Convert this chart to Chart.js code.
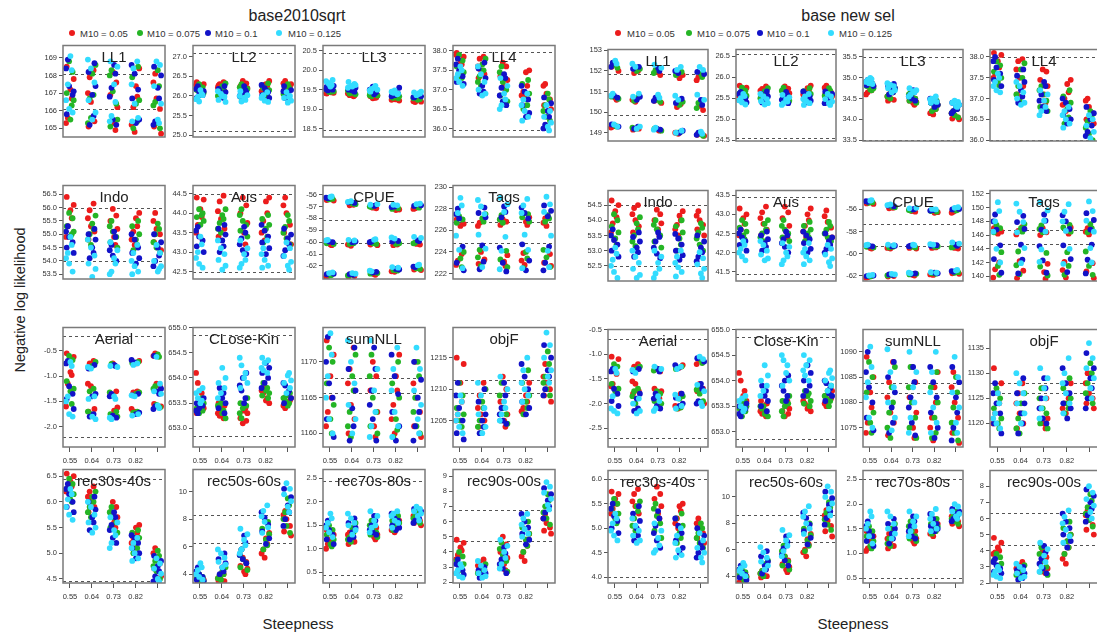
<!DOCTYPE html>
<html lang="en">
<head>
<meta charset="UTF-8">
<title>Negative log likelihood vs steepness</title>
<script src="https://cdn.jsdelivr.net/npm/chart.js"></script>
<style>
  html, body { margin:0; padding:0; background:#fff; }
  body { width:1097px; height:635px; position:relative; overflow:hidden;
         font-family:"Liberation Sans", Arial, sans-serif; color:#222; }
  canvas { position:absolute; }
  .txt { position:absolute; white-space:nowrap; }
  .main { font-size:16px; transform:translate(-50%,-50%); }
  .leg  { font-size:9.5px; color:#333; transform:translateY(-50%); }
  .dot  { position:absolute; width:6px; height:6px; border-radius:50%; transform:translate(-50%,-50%); }
  .xlab { font-size:15px; transform:translate(-50%,-50%); }
  .ylab { font-size:14.5px; transform:translate(-50%,-50%) rotate(-90deg); }
</style>
</head>
<body>

<div class="txt main" style="left:297px;top:16px">base2010sqrt</div>
<div class="txt main" style="left:848px;top:16px">base new sel</div>
<div class="txt ylab" style="left:20px;top:300px">Negative log likelihood</div>
<div class="txt xlab" style="left:298px;top:623px">Steepness</div>
<div class="txt xlab" style="left:853px;top:623px">Steepness</div>
<div id="legends"></div>

<script>
/* ---------- common labels ---------- */
const M10 = ['0.05', '0.075', '0.1', '0.125'];
const COLORS = ['#ec1c1c', '#25b525', '#1212c8', '#33dcff'];
const STEEPNESS = ['0.55', '0.64', '0.73', '0.82', '0.91'];
const SHOWN_X_LABELS = 4;           // R dropped the last label

const leftTitles  = ['LL1','LL2','LL3','LL4','Indo','Aus','CPUE','Tags','Aerial','CLose-Kin','sumNLL','objF','rec30s-40s','rec50s-60s','rec70s-80s','rec90s-00s'];
const rightTitles = ['LL1','LL2','LL3','LL4','Indo','Aus','CPUE','Tags','Aerial','Close-Kin','sumNLL','objF','rec30s-40s','rec50s-60s','rec70s-80s','rec90s-00s'];

const leftRanges  = [[164.51,169.7],[24.96,27.28],[18.28,20.64],[35.78,38.14],[53.32,56.83],[42.31,44.71],[-63.1,-55.23],[221.5,230.14],[-2.4,-0.04],[652.63,655.0],[1158.1,1174.8],[1200.8,1219.8],[4.42,6.63],[3.36,11.6],[0.27,2.69],[1.95,9.43]];
const rightRanges = [[148.6,153.04],[24.48,26.66],[33.48,35.68],[35.98,38.18],[52.0,54.98],[41.26,43.62],[-62.5,-54.28],[139.3,152.5],[-2.88,-0.5],[652.7,655.0],[1071.2,1094.4],[1115.3,1138.7],[3.88,6.18],[3.48,12.0],[0.4,2.68],[2.0,8.97]];

const leftTicks  = [[165,166,167,168,169],[25,25.5,26,26.5,27],[18.5,19,19.5,20,20.5],[36,36.5,37,37.5,38],[53.5,54,54.5,55,55.5,56,56.5],[42.5,43,43.5,44,44.5],[-62,-61,-60,-59,-58,-57,-56],[222,224,226,228,230],[-2,-1.5,-1,-0.5],[653,653.5,654,654.5,655],[1160,1165,1170],[1205,1210,1215],[4.5,5,5.5,6,6.5],[4,6,8,10],[0.5,1,1.5,2,2.5],[2,3,4,5,6,7,8,9]];
const rightTicks = [[149,150,151,152,153],[24.5,25,25.5,26,26.5],[33.5,34,34.5,35,35.5],[36,36.5,37,37.5,38],[52.5,53,53.5,54,54.5],[41.5,42,42.5,43,43.5],[-62,-60,-58,-56],[140,142,144,146,148,150,152],[-2.5,-2,-1.5,-1,-0.5],[653,653.5,654,654.5,655],[1075,1080,1085,1090],[1120,1125,1130,1135],[4,4.5,5,5.5,6],[4,6,8,10],[0.5,1,1.5,2,2.5],[2,3,4,5,6,7,8]];

const leftRefs  = [[168.1,166.1],[27.1,25.1],[20.45,18.45],[37.97,35.97],[56.0,54.0],[44.5,42.5],[-58.1,-60.1],[226.8,224.8],[-0.2,-2.2],[654.85,652.85],[1167.7,1165.7],[1211.4,1209.4],[6.45,4.45],[8.3,6.3],[2.45,0.45],[6.75,4.75]];
const rightRefs = [[151.85,149.85],[26.55,24.55],[35.5,33.5],[38.0,36.0],[54.5,52.5],[43.45,41.45],[-57.35,-59.35],[146.7,144.7],[-0.7,-2.7],[654.85,652.85],[1083.8,1081.8],[1128.0,1126.0],[6.0,4.0],[8.6,6.6],[2.5,0.5],[6.35,4.35]];

/* ---------- values: [colour][steepness][run] ---------- */
/* base2010sqrt */
const L_LL1 = [
  [[168.5,167.8,167.2,166.7,165.6,165.3],[168.3,167.9,167.0,166.5,165.4,165.1],[168.2,167.6,166.9,166.2,165.3,164.9],[168.4,167.4,166.8,166.2,165.2,164.8],[168.1,167.6,166.7,166.1,165.1,164.7]],
  [[168.8,168.2,167.0,166.6,165.5,166.3],[168.6,168.1,166.9,166.7,165.3,165.6],[168.3,168.0,167.1,166.4,165.1,165.5],[168.5,167.9,166.6,166.4,165.4,165.0],[168.3,167.4,166.5,166.3,165.3,165.0]],
  [[168.9,168.4,167.4,166.9,165.8,167.1],[168.7,168.2,167.4,166.9,165.7,165.2],[168.6,168.1,167.3,166.8,165.5,165.2],[168.6,168.1,167.2,166.7,165.5,165.3],[168.5,168.0,167.3,166.7,165.4,165.2]],
  [[169.1,168.3,167.5,166.6,166.1,165.9],[168.9,168.4,167.6,166.6,165.9,165.5],[168.8,168.5,167.5,166.5,165.7,165.4],[168.8,168.4,167.5,166.4,165.6,165.4],[168.8,168.6,167.4,166.4,165.5,165.3]]];
const L_LL2 = [
  [[26.35,26.3,26.25,26.2,26.15,26.28],[26.35,26.3,26.22,26.18,26.12,26.27],[26.38,26.32,26.25,26.2,26.15,26.3],[26.38,26.3,26.25,26.18,26.12,26.28],[26.38,26.32,26.24,26.2,26.14,26.3]],
  [[26.3,26.22,26.15,26.08,26.02,26.18],[26.32,26.25,26.15,26.1,26.0,26.2],[26.3,26.22,26.12,26.05,25.98,26.18],[26.32,26.25,26.15,26.08,26.0,26.2],[26.3,26.22,26.12,26.05,25.98,26.17]],
  [[26.25,26.18,26.1,26.02,25.95,26.12],[26.25,26.18,26.1,26.0,25.95,26.13],[26.25,26.15,26.08,26.0,25.92,26.1],[26.28,26.2,26.1,26.02,25.95,26.14],[26.25,26.15,26.08,26.0,25.95,26.12]],
  [[26.15,26.05,25.98,25.92,25.86,26.02],[26.12,26.05,25.98,25.9,25.85,26.0],[26.12,26.02,25.95,25.9,25.86,26.0],[26.1,26.02,25.95,25.88,25.85,25.98],[26.1,26.0,25.95,25.88,25.83,25.98]]];
const L_LL3 = [
  [[19.40,19.42,19.45,19.43,19.48,19.41],[19.33,19.36,19.40,19.38,19.35,19.42],[19.28,19.30,19.33,19.35,19.31,19.29],[19.22,19.25,19.28,19.30,19.24,19.27],[19.18,19.20,19.22,19.25,19.21,19.19]],
  [[19.44,19.47,19.50,19.46,19.52,19.45],[19.38,19.42,19.45,19.40,19.48,19.44],[19.33,19.36,19.40,19.38,19.42,19.35],[19.28,19.30,19.33,19.35,19.31,19.29],[19.24,19.27,19.30,19.28,19.32,19.26]],
  [[19.48,19.52,19.55,19.50,19.58,19.60],[19.45,19.50,19.55,19.48,19.60,19.52],[19.38,19.42,19.46,19.50,19.58,19.44],[19.33,19.36,19.40,19.38,19.55,19.42],[19.30,19.33,19.36,19.38,19.34,19.31]],
  [[19.58,19.62,19.68,19.72,19.65,19.75],[19.55,19.60,19.65,19.70,19.62,19.58],[19.45,19.50,19.55,19.60,19.52,19.48],[19.38,19.42,19.45,19.48,19.40,19.44],[19.36,19.40,19.43,19.45,19.38,19.41]]];
const L_LL4 = [
  [[37.95,37.85,37.75,37.65,37.62,37.9],[37.85,37.8,37.6,37.5,37.4,37.3],[37.7,37.6,37.35,37.25,37.1,37.0],[37.5,37.45,37.1,36.95,36.85,36.8],[37.15,37.1,36.9,36.75,36.6,36.5]],
  [[37.9,37.75,37.6,37.45,37.35,37.3],[37.8,37.65,37.5,37.35,37.2,37.1],[37.6,37.45,37.2,37.0,36.85,36.7],[37.25,37.15,36.9,36.75,36.6,36.5],[36.9,36.75,36.6,36.45,36.3,36.2]],
  [[37.8,37.65,37.5,37.35,37.2,37.15],[37.7,37.55,37.3,37.1,36.95,36.9],[37.4,37.3,37.05,36.85,36.7,36.6],[37.1,36.95,36.75,36.6,36.4,36.3],[36.8,36.65,36.45,36.3,36.1,36.0]],
  [[37.6,37.5,37.4,37.3,37.2,37.1],[37.6,37.4,37.2,37.0,36.9,36.85],[37.3,37.1,36.9,36.75,36.6,36.5],[36.9,36.75,36.6,36.45,36.3,36.2],[36.6,36.45,36.3,36.15,36.05,35.95]]];
const L_Indo = [
  [[56.4,56.1,55.9,55.6,55.3,54.9],[56.15,55.9,55.6,55.3,55.1,54.8],[55.95,55.7,55.5,55.2,54.9,54.6],[55.8,55.6,55.3,55.1,54.8,54.6],[55.8,55.5,55.2,55.0,54.7,54.4]],
  [[55.8,55.6,55.3,55.1,54.9,55.0],[55.7,55.4,55.2,55.0,54.8,54.6],[55.5,55.3,55.1,54.9,54.7,54.5],[55.5,55.3,55.0,54.8,54.6,54.4],[55.4,55.2,55.0,54.7,54.5,54.3]],
  [[55.3,55.1,54.9,54.7,54.5,54.3],[55.2,55.0,54.8,54.5,54.3,54.1],[55.1,54.9,54.6,54.4,54.2,54.0],[55.0,54.8,54.5,54.3,54.1,53.9],[55.0,54.7,54.5,54.2,54.0,53.8]],
  [[54.9,54.6,54.3,54.1,53.9,53.6],[54.8,54.5,54.2,53.9,53.7,53.4],[54.7,54.4,54.1,53.9,53.6,53.5],[54.6,54.3,54.0,53.8,53.6,53.5],[54.6,54.3,54.0,53.8,53.6,53.7]]];
const L_Aus = [
  [[44.4,44.35,44.1,43.9,43.7,43.5],[44.45,44.3,44.05,43.85,43.6,43.4],[44.4,44.2,44.0,43.75,43.5,43.2],[44.4,44.3,44.0,43.8,43.5,43.3],[44.4,44.2,44.0,43.7,43.5,43.2]],
  [[44.1,44.0,43.9,43.8,43.7,43.95],[44.1,43.95,43.85,43.75,43.6,43.5],[44.1,43.95,43.8,43.7,43.55,43.4],[43.95,43.85,43.7,43.6,43.4,43.25],[43.95,43.8,43.65,43.5,43.35,43.2]],
  [[43.65,43.55,43.4,43.3,43.15,43.0],[43.7,43.6,43.45,43.3,43.15,43.0],[43.65,43.5,43.35,43.2,43.05,42.95],[43.7,43.55,43.4,43.25,43.1,42.95],[43.6,43.45,43.35,43.2,43.05,42.9]],
  [[43.4,43.2,43.0,42.85,42.7,42.6],[43.3,43.1,42.95,42.8,42.65,42.55],[43.3,43.1,42.95,42.8,42.7,42.6],[43.3,43.1,42.95,42.8,42.65,42.6],[43.25,43.1,42.9,42.75,42.65,42.55]]];
const L_CPUE = [
  [[-56.45,-56.5,-60.2,-60.25,-62.85,-62.9],[-56.85,-56.9,-60.2,-60.3,-62.85,-62.9],[-57.1,-57.15,-60.2,-60.25,-62.7,-62.75],[-57.25,-57.3,-60.2,-60.25,-62.45,-62.5],[-57.15,-57.2,-60.15,-60.2,-62.3,-62.35]],
  [[-56.4,-56.35,-60.1,-60.15,-62.8,-62.75],[-56.8,-56.75,-60.1,-60.15,-62.8,-62.75],[-57.05,-57.0,-60.1,-60.15,-62.65,-62.6],[-57.15,-57.2,-60.1,-60.15,-62.4,-62.35],[-57.05,-57.1,-60.05,-60.1,-62.2,-62.25]],
  [[-56.3,-56.25,-59.95,-60.0,-62.7,-62.65],[-56.7,-56.65,-59.95,-60.0,-62.75,-62.7],[-56.95,-56.9,-59.95,-60.0,-62.55,-62.5],[-57.05,-57.0,-59.9,-59.95,-62.3,-62.25],[-56.95,-56.9,-59.85,-59.9,-62.1,-62.05]],
  [[-56.2,-56.15,-59.8,-59.85,-62.6,-62.55],[-56.6,-56.55,-59.85,-59.8,-62.65,-62.6],[-56.85,-56.8,-59.8,-59.75,-62.45,-62.4],[-56.9,-56.85,-59.6,-59.7,-62.15,-62.1],[-56.8,-56.75,-59.55,-59.65,-61.95,-61.9]]];
const L_Tags = [
  [[227.0,226.6,226.4,223.8,223.2,222.8],[227.1,226.7,226.4,224.0,223.3,222.9],[227.0,226.8,226.5,223.7,223.1,222.7],[227.2,226.8,226.5,223.9,223.2,222.8],[227.1,226.7,226.4,223.8,223.0,222.7]],
  [[227.3,227.0,226.7,224.0,223.4,222.6],[227.5,227.1,226.8,224.2,223.5,222.7],[227.4,227.0,226.7,224.1,223.3,222.6],[227.5,227.2,226.8,224.0,223.4,222.5],[227.4,227.1,226.8,224.2,223.5,222.6]],
  [[228.0,227.5,227.1,224.5,223.0,222.3],[228.1,227.6,227.2,224.6,223.1,222.4],[228.2,227.7,227.2,224.4,223.0,222.2],[228.1,227.6,227.1,224.7,223.2,222.3],[228.3,227.8,227.3,224.5,223.0,222.3]],
  [[229.0,228.3,227.6,225.5,224.2,222.5],[228.8,228.2,227.5,225.6,224.3,222.6],[229.0,228.4,227.7,225.4,224.1,222.4],[228.9,228.3,227.6,225.6,224.2,222.5],[229.1,228.4,227.7,225.5,224.1,222.6]]];
const L_Aerial = [
  [[-0.55,-0.62,-0.92,-0.98,-1.15,-1.6],[-0.7,-0.75,-1.15,-1.2,-1.65,-1.7],[-0.75,-1.3,-1.35,-1.62,-1.68,-1.7],[-0.7,-0.75,-1.3,-1.32,-1.65,-1.7],[-0.55,-0.6,-1.15,-1.2,-1.55,-1.6]],
  [[-0.6,-0.68,-1.1,-1.25,-1.3,-1.55],[-0.72,-0.8,-1.25,-1.3,-1.7,-1.75],[-0.76,-1.32,-1.38,-1.7,-1.75,-1.8],[-0.72,-0.74,-1.32,-1.35,-1.7,-1.72],[-0.57,-0.62,-1.2,-1.25,-1.57,-1.62]],
  [[-0.7,-0.75,-1.2,-1.35,-1.45,-1.65],[-0.78,-0.85,-1.35,-1.4,-1.75,-1.8],[-0.78,-0.8,-1.35,-1.4,-1.78,-1.82],[-0.68,-0.73,-1.35,-1.38,-1.72,-1.75],[-0.6,-1.25,-1.3,-1.35,-1.6,-1.65]],
  [[-0.72,-0.8,-1.4,-1.5,-1.75,-1.8],[-0.82,-0.85,-1.4,-1.45,-1.85,-1.8],[-0.8,-0.82,-1.4,-1.45,-1.85,-1.82],[-0.75,-0.78,-1.38,-1.4,-1.75,-1.78],[-0.62,-1.15,-1.3,-1.35,-1.58,-1.63]]];
const L_CloseKin = [
  [[653.3,653.4,653.5,653.7,653.9,654.1],[653.2,653.25,653.3,653.4,653.45,653.5],[653.1,653.15,653.2,653.3,653.35,653.4],[653.5,653.55,653.6,653.7,653.75,653.8],[653.4,653.45,653.5,653.55,653.6,653.6]],
  [[653.3,653.35,653.4,653.5,653.55,653.6],[653.2,653.3,653.35,653.4,653.45,653.5],[653.2,653.3,653.4,653.45,653.5,653.6],[653.6,653.65,653.7,653.75,653.8,653.9],[653.45,653.5,653.55,653.6,653.65,653.7]],
  [[653.3,653.35,653.4,653.45,653.5,653.6],[653.3,653.4,653.5,653.6,653.7,653.8],[653.5,653.6,653.75,653.85,654.0,654.1],[653.8,653.9,654.0,654.1,654.2,654.3],[653.5,653.6,653.7,653.75,653.85,653.9]],
  [[653.5,653.55,653.6,653.7,653.75,653.8],[653.6,653.7,653.8,653.9,654.0,654.2],[653.8,653.9,654.0,654.1,654.25,654.4],[654.1,654.15,654.2,654.3,654.35,654.4],[653.7,653.8,653.9,653.95,654.05,654.1]]];
const L_sumNLL = [
  [[1173,1171,1168,1165,1163,1161],[1172,1169,1167,1164,1162,1160],[1170,1168,1166,1163,1161,1159.5],[1171,1168,1166,1164,1162,1160],[1170,1167,1165,1163,1161,1159.5]],
  [[1172,1170,1167,1164,1162,1160],[1171,1168,1166,1163,1161,1159.5],[1171,1168,1165,1163,1161,1160],[1170,1167,1165,1162,1160.5,1159.5],[1170,1168,1165,1163,1161,1160]],
  [[1173.5,1170,1167,1165,1162,1159.5],[1172,1169,1166,1163.5,1161,1159],[1172,1169,1166,1164,1162,1159],[1171,1168,1165.5,1163,1161,1159],[1170,1167.5,1165,1163,1161,1159]],
  [[1174,1171,1168,1165,1162,1160],[1173,1170,1167,1164,1162,1160],[1173,1169,1166,1163,1161,1159.5],[1172,1169,1166,1163,1161,1159.5],[1172,1169,1166,1164,1162,1160]]];
const L_objF = [
  [[1215,1214,1211,1208,1206,1205],[1211,1209,1207,1206,1205,1204],[1212,1210,1208,1206,1205,1204],[1211,1209,1208,1207,1206.5,1206],[1214,1212,1211,1210,1209,1208]],
  [[1211,1209,1207,1206,1205,1204],[1210,1208,1207,1205,1204,1203],[1211,1209,1207,1206,1205,1204.5],[1213,1211,1209,1208,1207,1206],[1216,1214,1212,1211,1210,1209]],
  [[1211,1209,1207,1205,1203,1202],[1210,1208,1206,1205,1204,1203],[1211,1209,1207,1206,1205,1204.5],[1214,1212,1210,1208,1207,1206],[1217,1215,1213,1212,1210,1209]],
  [[1209,1208,1206,1205,1204,1203],[1211,1209,1207,1206,1204,1203],[1212,1210,1208,1207,1206,1205],[1215,1213,1211,1210,1209,1208],[1219,1217,1215,1213,1212,1211]]];
const L_rec3040 = [
  [[6.55,6.5,6.4,6.3,6.25,6.2],[6.3,6.2,6.1,6.0,5.9,5.8],[6.0,5.9,5.8,5.7,5.6,5.5],[5.55,5.5,5.4,5.3,5.2,5.1],[5.1,5.0,4.9,4.8,4.7,4.55]],
  [[6.45,6.35,6.25,6.15,6.05,6.0],[6.2,6.1,6.0,5.9,5.8,5.7],[5.9,5.8,5.7,5.6,5.5,5.4],[5.45,5.4,5.3,5.2,5.1,5.0],[5.05,4.95,4.85,4.75,4.65,4.5]],
  [[6.35,6.25,6.15,6.0,5.9,5.8],[6.1,6.0,5.85,5.7,5.6,5.45],[5.8,5.7,5.55,5.45,5.3,5.2],[5.35,5.3,5.2,5.1,5.0,4.9],[4.95,4.85,4.75,4.65,4.55,4.45]],
  [[6.25,6.15,6.05,5.9,5.75,5.65],[6.0,5.9,5.75,5.6,5.5,5.4],[5.7,5.6,5.45,5.35,5.2,5.1],[5.3,5.2,5.1,5.0,4.9,4.85],[4.9,4.8,4.7,4.6,4.5,4.45]]];
const L_rec5060 = [
  [[3.8,3.6,3.5,3.4,3.3,3.2],[4.0,3.85,3.7,3.6,3.5,3.5],[5.2,4.9,4.6,4.4,4.2,4.0],[7.0,6.6,6.2,5.8,5.5,5.2],[8.6,8.3,8.0,7.5,7.1,6.8]],
  [[4.0,3.8,3.7,3.5,3.4,3.3],[4.5,4.2,4.0,3.9,3.7,3.6],[5.8,5.4,5.1,4.8,4.5,4.3],[7.8,7.3,6.9,6.5,6.1,5.8],[9.5,9.0,8.5,8.0,7.5,7.0]],
  [[4.5,4.2,4.0,3.8,3.6,3.5],[5.5,5.1,4.8,4.5,4.2,4.0],[6.8,6.3,5.8,5.4,5.1,4.8],[8.5,8.1,7.6,7.1,6.6,6.2],[10.2,9.6,9.0,8.5,8.0,7.5]],
  [[4.8,4.5,4.3,4.0,3.8,3.6],[5.8,5.5,5.2,4.9,4.7,4.5],[7.3,6.9,6.5,6.1,5.8,5.5],[9.0,8.6,8.2,7.8,7.4,7.0],[10.6,10.2,9.8,9.3,8.9,8.5]]];
const L_rec7080 = [
  [[1.4,1.3,1.2,1.15,1.1,1.0],[1.45,1.35,1.3,1.2,1.15,1.1],[1.5,1.45,1.4,1.3,1.25,1.2],[1.6,1.55,1.5,1.45,1.4,1.35],[1.75,1.7,1.65,1.6,1.55,1.5]],
  [[1.5,1.4,1.3,1.2,1.1,1.05],[1.55,1.45,1.35,1.25,1.2,1.15],[1.6,1.5,1.45,1.35,1.3,1.25],[1.7,1.6,1.55,1.5,1.45,1.4],[1.8,1.75,1.7,1.65,1.6,1.55]],
  [[1.6,1.5,1.4,1.3,1.2,1.1],[1.65,1.55,1.45,1.35,1.25,1.2],[1.7,1.6,1.5,1.4,1.35,1.3],[1.75,1.65,1.6,1.5,1.45,1.4],[1.85,1.8,1.7,1.65,1.6,1.55]],
  [[1.75,1.65,1.55,1.45,1.35,1.25],[1.75,1.65,1.55,1.5,1.4,1.3],[1.8,1.7,1.6,1.5,1.45,1.35],[1.8,1.75,1.7,1.6,1.55,1.45],[1.9,1.85,1.8,1.75,1.7,1.6]]];
const L_rec9000 = [
  [[4.8,4.6,4.3,4.1,3.8,3.5],[3.5,3.3,3.1,2.9,2.8,2.7],[5.0,4.5,4.0,3.6,3.2,2.8],[5.2,4.8,4.4,4.0,3.7,3.4],[6.5,6.2,5.9,5.6,5.4,5.2]],
  [[4.0,3.7,3.4,3.2,3.0,2.8],[3.2,3.0,2.8,2.7,2.6,2.5],[4.6,4.2,3.8,3.4,3.0,2.7],[6.0,5.6,5.2,4.8,4.4,4.0],[7.8,7.4,7.0,6.6,6.2,5.8]],
  [[3.5,3.2,3.0,2.8,2.6,2.5],[3.0,2.8,2.6,2.5,2.4,2.3],[4.3,3.9,3.5,3.2,2.9,2.6],[6.5,6.0,5.6,5.2,4.8,4.5],[8.2,7.8,7.4,7.0,6.6,6.2]],
  [[3.2,3.0,2.8,2.6,2.4,2.3],[3.4,3.1,2.8,2.6,2.4,2.3],[4.8,4.4,4.0,3.6,3.2,2.9],[6.5,6.2,5.8,5.5,5.2,5.0],[8.6,8.3,7.9,7.5,7.1,6.8]]];

/* base new sel */
const R_LL1 = [
  [[152.2,152.0,150.7,150.6,149.3,149.25],[152.0,151.9,150.6,150.5,149.2,149.15],[151.95,151.8,150.55,150.45,149.15,149.1],[151.8,151.65,150.4,150.25,149.0,148.95],[151.7,151.55,150.3,150.1,148.9,148.85]],
  [[152.3,152.15,150.75,150.65,149.35,149.3],[152.1,152.0,150.7,150.55,149.25,149.2],[152.05,151.9,150.6,150.5,149.2,149.1],[151.95,151.8,150.5,150.35,149.05,149.0],[151.85,151.7,150.45,150.2,148.95,148.85]],
  [[152.4,152.2,150.8,150.7,149.4,149.3],[152.2,152.1,150.75,150.6,149.3,149.2],[152.15,152.0,150.7,150.55,149.2,149.15],[152.0,151.9,150.65,150.45,149.1,149.0],[151.95,151.85,150.6,150.35,149.0,148.9]],
  [[152.5,152.35,150.9,150.8,149.4,149.3],[152.35,152.2,150.9,150.75,149.3,149.2],[152.3,152.15,150.85,150.7,149.25,149.15],[152.2,152.05,150.8,150.6,149.1,149.0],[152.2,152.05,150.85,150.6,149.05,148.95]]];
const R_LL2 = [
  [[25.8,25.75,25.7,25.65,25.6,25.55],[25.78,25.72,25.68,25.62,25.58,25.54],[25.78,25.73,25.67,25.62,25.57,25.53],[25.8,25.74,25.69,25.64,25.59,25.55],[25.8,25.75,25.7,25.64,25.6,25.55]],
  [[25.75,25.68,25.62,25.56,25.5,25.45],[25.74,25.67,25.61,25.55,25.5,25.46],[25.75,25.68,25.6,25.54,25.48,25.44],[25.74,25.67,25.6,25.55,25.5,25.45],[25.74,25.68,25.62,25.56,25.5,25.45]],
  [[25.65,25.6,25.55,25.5,25.45,25.4],[25.66,25.6,25.54,25.48,25.43,25.4],[25.65,25.58,25.52,25.46,25.42,25.38],[25.66,25.6,25.54,25.49,25.44,25.4],[25.66,25.6,25.54,25.48,25.43,25.38]],
  [[25.6,25.55,25.5,25.45,25.4,25.35],[25.6,25.54,25.48,25.43,25.38,25.35],[25.58,25.52,25.47,25.42,25.38,25.34],[25.6,25.54,25.48,25.43,25.38,25.34],[25.6,25.54,25.48,25.42,25.38,25.34]]];
const R_LL3 = [
  [[34.85,34.8,34.75,34.7,34.65,34.6],[34.65,34.6,34.55,34.5,34.47,34.45],[34.55,34.5,34.45,34.42,34.4,34.35],[34.35,34.3,34.25,34.2,34.15,34.12],[34.2,34.15,34.1,34.05,34.02,34.0]],
  [[34.9,34.85,34.8,34.75,34.72,34.7],[34.75,34.7,34.65,34.6,34.55,34.5],[34.65,34.6,34.55,34.5,34.45,34.4],[34.45,34.4,34.35,34.3,34.25,34.2],[34.3,34.25,34.2,34.15,34.1,34.05]],
  [[34.95,34.9,34.87,34.85,34.82,34.8],[34.85,34.8,34.75,34.7,34.65,34.6],[34.7,34.65,34.6,34.55,34.5,34.45],[34.5,34.45,34.42,34.4,34.35,34.3],[34.4,34.35,34.3,34.25,34.2,34.15]],
  [[35.0,34.97,34.95,34.9,34.87,34.85],[34.87,34.83,34.8,34.75,34.7,34.65],[34.75,34.7,34.68,34.65,34.6,34.55],[34.55,34.5,34.48,34.45,34.42,34.4],[34.45,34.42,34.4,34.35,34.32,34.3]]];
const R_LL4 = [
  [[38.1,38.05,37.9,37.75,37.6,37.5],[37.95,37.9,37.7,37.5,37.3,37.1],[37.7,37.65,37.45,37.3,37.1,36.9],[37.45,37.35,37.15,37.0,36.85,36.7],[37.0,36.95,36.8,36.65,36.5,36.4]],
  [[37.9,37.8,37.65,37.5,37.4,37.3],[37.85,37.7,37.5,37.3,37.1,36.95],[37.3,37.2,37.1,36.95,36.8,36.7],[37.2,37.05,36.9,36.75,36.55,36.4],[36.7,36.6,36.45,36.3,36.15,36.0]],
  [[38.0,37.9,37.75,37.6,37.45,37.3],[37.7,37.55,37.4,37.2,37.05,36.9],[37.4,37.3,37.1,36.95,36.8,36.7],[37.0,36.9,36.75,36.6,36.5,36.4],[36.8,36.65,36.5,36.35,36.2,36.1]],
  [[37.6,37.5,37.4,37.3,37.2,37.15],[37.4,37.3,37.15,37.0,36.9,36.85],[37.2,37.1,36.95,36.8,36.7,36.6],[36.8,36.7,36.6,36.5,36.4,36.3],[36.6,36.5,36.35,36.2,36.05,35.95]]];
const R_Indo = [
  [[54.65,54.5,54.3,54.1,53.9,53.6],[54.5,54.4,54.2,54.0,53.8,53.6],[54.35,54.2,54.0,53.9,53.7,53.5],[54.3,54.15,54.0,53.85,53.7,53.5],[54.3,54.15,54.0,53.85,53.7,53.5]],
  [[54.2,54.0,53.8,53.6,53.4,53.2],[54.1,53.9,53.7,53.5,53.3,53.15],[54.0,53.85,53.7,53.5,53.3,53.1],[54.0,53.8,53.6,53.4,53.2,53.0],[53.9,53.75,53.6,53.4,53.2,53.0]],
  [[53.7,53.5,53.35,53.2,53.0,52.8],[53.6,53.45,53.3,53.1,52.95,52.8],[53.6,53.45,53.3,53.1,52.9,52.75],[53.55,53.4,53.2,53.0,52.85,52.7],[53.5,53.3,53.1,52.95,52.8,52.65]],
  [[53.1,52.9,52.7,52.5,52.3,52.1],[53.0,52.8,52.6,52.4,52.2,52.1],[53.0,52.8,52.6,52.4,52.25,52.1],[53.0,52.8,52.6,52.45,52.3,52.15],[52.95,52.75,52.55,52.4,52.25,52.1]]];
const R_Aus = [
  [[43.15,43.0,42.9,42.75,42.6,42.45],[43.2,43.05,42.9,42.75,42.6,42.45],[43.2,43.05,42.9,42.7,42.55,42.4],[43.15,43.0,42.85,42.7,42.55,42.4],[43.1,42.95,42.8,42.65,42.5,42.4]],
  [[42.85,42.75,42.65,42.55,42.45,42.35],[42.85,42.75,42.6,42.5,42.4,42.3],[42.85,42.7,42.6,42.5,42.4,42.3],[42.8,42.7,42.6,42.5,42.4,42.3],[42.8,42.7,42.6,42.5,42.4,42.3]],
  [[42.6,42.5,42.4,42.3,42.2,42.05],[42.55,42.45,42.35,42.25,42.15,42.05],[42.55,42.45,42.35,42.25,42.15,42.0],[42.55,42.45,42.35,42.25,42.1,42.0],[42.5,42.4,42.3,42.2,42.1,42.0]],
  [[42.3,42.2,42.1,42.0,41.9,41.8],[42.3,42.2,42.05,41.95,41.85,41.8],[42.25,42.15,42.0,41.9,41.8,41.7],[42.25,42.1,42.0,41.9,41.8,41.7],[42.2,42.1,41.95,41.85,41.75,41.65]]];
const R_CPUE = [
  [[-55.45,-55.5,-59.5,-59.55,-62.15,-62.2],[-55.85,-55.9,-59.5,-59.55,-62.05,-62.1],[-56.15,-56.2,-59.5,-59.55,-61.95,-62.0],[-56.25,-56.3,-59.45,-59.5,-61.9,-61.95],[-56.2,-56.3,-59.5,-59.55,-61.8,-61.85]],
  [[-55.4,-55.35,-59.4,-59.45,-62.1,-62.05],[-55.8,-55.75,-59.4,-59.45,-62.0,-61.95],[-56.1,-56.05,-59.4,-59.45,-61.9,-61.85],[-56.2,-56.15,-59.35,-59.4,-61.85,-61.8],[-56.1,-56.05,-59.4,-59.45,-61.75,-61.7]],
  [[-55.3,-55.25,-59.3,-59.35,-62.05,-62.0],[-55.7,-55.65,-59.3,-59.35,-61.95,-61.9],[-56.0,-55.95,-59.3,-59.35,-61.85,-61.8],[-56.1,-56.05,-59.25,-59.3,-61.8,-61.75],[-56.0,-55.95,-59.2,-59.3,-61.65,-61.6]],
  [[-55.2,-55.15,-59.2,-59.25,-62.0,-61.95],[-55.6,-55.55,-59.25,-59.2,-61.9,-61.85],[-55.9,-55.85,-59.2,-59.25,-61.8,-61.75],[-56.0,-55.95,-59.15,-59.2,-61.75,-61.7],[-55.85,-55.8,-59.0,-59.1,-61.55,-61.5]]];
const R_Tags = [
  [[147.0,146.5,146.2,142.0,141.0,139.8],[147.2,146.6,146.1,142.2,140.8,139.7],[147.0,146.4,146.0,141.8,140.6,139.6],[147.1,146.6,146.2,142.1,140.9,139.8],[147.0,146.5,146.1,141.9,140.7,139.7]],
  [[147.5,147.0,146.4,143.5,141.5,140.2],[147.6,147.0,146.5,143.6,141.6,140.3],[147.4,146.9,146.4,143.4,141.4,140.1],[147.5,147.1,146.5,143.5,141.5,140.2],[147.6,147.0,146.4,143.6,141.5,140.2]],
  [[149.0,148.0,146.8,144.5,142.5,140.5],[148.8,147.9,146.9,144.6,142.4,140.4],[149.0,148.1,146.8,144.4,142.3,140.5],[148.9,148.0,146.9,144.5,142.5,140.6],[149.2,148.2,146.8,144.6,142.4,140.4]],
  [[150.8,149.5,148.0,146.5,144.0,142.0],[150.6,149.4,147.9,146.4,144.1,141.9],[150.8,149.6,148.1,146.5,143.9,142.1],[150.5,149.4,148.0,146.6,144.0,141.8],[150.9,149.5,148.1,146.5,144.1,142.0]]];
const R_Aerial = [
  [[-1.05,-1.1,-1.35,-1.4,-1.6,-1.65],[-1.2,-1.25,-1.55,-1.6,-1.75,-1.8],[-1.3,-1.35,-1.7,-1.75,-1.85,-1.9],[-1.22,-1.27,-1.8,-1.85,-2.05,-2.1],[-1.1,-1.2,-1.6,-1.7,-1.75,-2.0]],
  [[-1.2,-1.25,-1.6,-1.7,-1.75,-1.8],[-1.25,-1.3,-1.7,-1.75,-1.85,-2.0],[-1.28,-1.33,-1.75,-1.8,-1.95,-2.0],[-1.25,-1.3,-1.85,-1.9,-2.08,-2.1],[-1.12,-1.18,-1.65,-1.72,-1.8,-1.95]],
  [[-1.3,-1.35,-1.7,-1.8,-1.95,-2.05],[-1.3,-1.35,-1.8,-1.9,-2.1,-2.15],[-1.3,-1.35,-1.8,-1.9,-2.05,-2.1],[-1.22,-1.28,-1.8,-1.88,-2.0,-2.05],[-1.08,-1.15,-1.6,-1.7,-1.95,-2.0]],
  [[-1.3,-1.38,-1.85,-2.1,-2.15,-2.2],[-1.32,-1.38,-1.9,-2.0,-2.15,-2.2],[-1.25,-1.3,-1.85,-1.95,-2.1,-2.15],[-1.25,-1.3,-1.82,-1.9,-2.05,-2.1],[-1.05,-1.1,-1.62,-1.75,-1.98,-2.05]]];
const R_CloseKin = [
  [[653.5,653.6,653.7,653.8,654.0,654.15],[653.3,653.35,653.4,653.5,653.55,653.6],[653.3,653.35,653.4,653.45,653.5,653.6],[653.4,653.45,653.5,653.55,653.6,653.7],[653.5,653.55,653.6,653.65,653.7,653.8]],
  [[653.3,653.4,653.45,653.5,653.55,653.6],[653.3,653.35,653.4,653.45,653.5,653.5],[653.3,653.4,653.5,653.55,653.6,653.7],[653.5,653.55,653.6,653.7,653.75,653.8],[653.5,653.6,653.65,653.7,653.8,653.9]],
  [[653.3,653.35,653.4,653.45,653.5,653.55],[653.4,653.5,653.6,653.7,653.8,653.9],[653.6,653.7,653.8,653.9,654.0,654.1],[653.7,653.8,653.9,654.0,654.15,654.3],[653.6,653.7,653.75,653.85,653.95,654.0]],
  [[653.4,653.45,653.5,653.6,653.65,653.7],[653.7,653.8,653.9,654.0,654.1,654.3],[653.9,654.0,654.15,654.3,654.4,654.5],[654.0,654.1,654.2,654.3,654.4,654.5],[653.8,653.9,654.0,654.05,654.15,654.2]]];
const R_sumNLL = [
  [[1089,1085,1082,1079,1076,1074],[1088,1084,1081,1078,1076,1073.5],[1087,1084,1081,1078,1075,1073],[1086,1083,1080,1077,1075,1072.5],[1086,1083,1080,1077,1074,1072]],
  [[1088,1085,1082,1078,1076,1074],[1087,1083,1080,1078,1075,1073],[1087,1083,1080,1077,1075,1073],[1086,1083,1080,1077,1074,1073],[1085,1082,1079,1076,1074,1072.5]],
  [[1090,1086,1083,1080,1077,1074.5],[1088,1085,1082,1079,1076,1074],[1087,1084,1081,1079,1076,1073.5],[1087,1084,1081,1078,1075,1073],[1087,1084,1081,1078,1075,1072.5]],
  [[1091,1087,1084,1081,1077,1075],[1090.5,1086,1083,1080,1077,1074.5],[1090,1086,1083,1080,1077,1074],[1090,1086,1082,1079,1076,1074],[1089,1085,1082,1079,1076,1074]]];
const R_objF = [
  [[1131,1128,1126,1124,1122,1120],[1128,1126,1124,1122,1120,1119],[1127,1125,1123,1121,1120,1119],[1128,1126,1125,1124,1123,1122],[1130,1128,1126,1125,1124,1123]],
  [[1127,1125,1123,1121,1120,1119],[1126,1124,1122,1121,1119,1118],[1127,1125,1123,1122,1120,1119],[1129,1127,1125,1124,1123,1122],[1132,1130,1128,1126,1125,1124]],
  [[1128,1126,1124,1122,1120,1118],[1129,1126,1124,1122,1120,1118],[1129,1127,1125,1123,1121,1120],[1131,1128,1126,1124,1123,1121],[1134,1131,1129,1127,1125,1123]],
  [[1126,1124,1122,1121,1120,1119],[1130,1128,1126,1124,1122,1120],[1131,1129,1127,1125,1123,1121],[1133,1130,1128,1126,1124,1122],[1136,1133,1131,1129,1127,1125]]];
const R_rec3040 = [
  [[5.75,5.7,5.6,5.5,5.4,5.3],[5.8,5.7,5.55,5.45,5.3,5.2],[5.85,5.7,5.6,5.45,5.3,5.2],[5.5,5.45,5.35,5.2,5.1,5.0],[5.2,5.1,5.0,4.9,4.8,4.7]],
  [[5.6,5.5,5.4,5.3,5.2,5.1],[5.55,5.45,5.35,5.2,5.05,4.95],[5.5,5.4,5.25,5.1,4.95,4.8],[5.3,5.2,5.05,4.9,4.8,4.7],[5.1,5.0,4.9,4.8,4.7,4.6]],
  [[5.5,5.4,5.25,5.15,5.0,4.9],[5.45,5.3,5.15,5.0,4.85,4.75],[5.35,5.2,5.05,4.9,4.75,4.6],[5.2,5.05,4.9,4.75,4.6,4.5],[5.0,4.85,4.7,4.6,4.5,4.4]],
  [[5.3,5.2,5.1,4.95,4.85,4.75],[5.2,5.05,4.95,4.85,4.75,4.7],[5.1,4.95,4.8,4.65,4.55,4.5],[5.0,4.85,4.7,4.55,4.45,4.4],[4.9,4.75,4.6,4.5,4.4,4.3]]];
const R_rec5060 = [
  [[4.2,4.0,3.8,3.7,3.6,3.5],[4.6,4.4,4.2,4.1,4.0,3.9],[5.5,5.2,4.9,4.7,4.5,4.3],[7.2,6.8,6.4,6.0,5.8,5.5],[9.0,8.6,8.2,7.8,7.4,7.0]],
  [[4.5,4.3,4.1,3.9,3.8,3.6],[5.2,4.9,4.6,4.4,4.2,4.0],[6.3,5.9,5.5,5.1,4.8,4.5],[8.0,7.6,7.1,6.7,6.3,5.9],[9.6,9.2,8.8,8.3,7.9,7.5]],
  [[4.8,4.5,4.3,4.1,3.9,3.7],[5.9,5.5,5.1,4.8,4.5,4.2],[7.0,6.6,6.1,5.6,5.2,4.8],[8.8,8.4,7.9,7.4,6.9,6.4],[10.4,9.9,9.4,8.9,8.4,7.9]],
  [[5.0,4.8,4.6,4.4,4.2,4.0],[6.2,5.8,5.4,5.1,4.8,4.5],[7.5,7.1,6.7,6.3,5.9,5.5],[9.3,8.9,8.5,8.0,7.6,7.2],[10.8,10.4,10.0,9.5,9.1,8.6]]];
const R_rec7080 = [
  [[1.45,1.35,1.25,1.15,1.1,1.05],[1.5,1.4,1.3,1.25,1.15,1.1],[1.55,1.45,1.4,1.3,1.25,1.2],[1.6,1.55,1.5,1.45,1.4,1.35],[1.8,1.75,1.7,1.65,1.6,1.55]],
  [[1.55,1.45,1.35,1.25,1.15,1.1],[1.6,1.5,1.4,1.3,1.2,1.15],[1.65,1.55,1.45,1.35,1.3,1.25],[1.7,1.6,1.55,1.5,1.45,1.4],[1.85,1.8,1.75,1.7,1.65,1.6]],
  [[1.65,1.55,1.45,1.35,1.25,1.15],[1.7,1.6,1.5,1.4,1.3,1.2],[1.75,1.65,1.55,1.45,1.35,1.3],[1.8,1.7,1.6,1.55,1.5,1.45],[1.9,1.85,1.8,1.75,1.7,1.65]],
  [[1.85,1.75,1.6,1.5,1.35,1.2],[1.85,1.75,1.6,1.5,1.4,1.3],[1.85,1.75,1.65,1.55,1.45,1.35],[1.9,1.8,1.7,1.6,1.5,1.45],[2.0,1.95,1.85,1.8,1.75,1.7]]];
const R_rec9000 = [
  [[4.8,4.5,4.2,4.0,3.9,3.8],[3.3,3.1,2.9,2.8,2.7,2.6],[4.0,3.6,3.2,2.9,2.7,2.6],[5.0,4.6,4.2,3.8,3.5,3.2],[6.5,6.2,5.9,5.6,5.3,5.0]],
  [[3.8,3.6,3.4,3.2,3.0,2.9],[3.1,2.9,2.7,2.6,2.5,2.4],[4.2,3.8,3.4,3.0,2.7,2.5],[5.8,5.4,5.0,4.6,4.2,3.8],[7.5,7.1,6.7,6.3,5.9,5.5]],
  [[3.5,3.3,3.1,2.9,2.7,2.6],[3.0,2.8,2.6,2.4,2.3,2.2],[4.3,3.9,3.5,3.2,2.9,2.6],[6.3,5.8,5.4,5.0,4.6,4.2],[7.8,7.4,7.0,6.6,6.2,5.8]],
  [[3.0,2.8,2.7,2.5,2.4,2.3],[3.2,3.0,2.8,2.6,2.4,2.3],[4.5,4.1,3.7,3.3,3.0,2.7],[6.5,6.1,5.7,5.3,4.9,4.5],[8.0,7.6,7.2,6.8,6.4,6.0]]];

const leftData  = [L_LL1,L_LL2,L_LL3,L_LL4,L_Indo,L_Aus,L_CPUE,L_Tags,L_Aerial,L_CloseKin,L_sumNLL,L_objF,L_rec3040,L_rec5060,L_rec7080,L_rec9000];
const rightData = [R_LL1,R_LL2,R_LL3,R_LL4,R_Indo,R_Aus,R_CPUE,R_Tags,R_Aerial,R_CloseKin,R_sumNLL,R_objF,R_rec3040,R_rec5060,R_rec7080,R_rec9000];

/* ---------- layout ---------- */
const FONT = '"Liberation Sans", Arial, sans-serif';
const JITTER = [-0.15, 0.08, -0.04, 0.17, -0.1, 0.12, 0.02, -0.18];
const AXW = 36, PAD = 4, XAXH = 26;

const BLOCKS = [
  { titles:leftTitles, data:leftData, ranges:leftRanges, ticks:leftTicks, refs:leftRefs,
    cols:[63,193,323,453], widths:[102,102,102,102], rows:[43,183,325,467], heights:[120,122,122,116] },
  { titles:rightTitles, data:rightData, ranges:rightRanges, ticks:rightTicks, refs:rightRefs,
    cols:[608,736,863,990], widths:[100,100,100,108], rows:[47,188,327,468], heights:[120,119,120,115] }
];

/* legends */
const LEGEND_POS = [
  { dots:[72,140,208,279], txt:[80,147,215,288] },
  { dots:[618,689,760,831], txt:[627,697,767,839] }
];
const legHost = document.getElementById('legends');
LEGEND_POS.forEach(p => {
  M10.forEach((m, c) => {
    const d = document.createElement('div');
    d.className = 'dot';
    d.style.cssText = `left:${p.dots[c]}px;top:33px;background:${COLORS[c]}`;
    legHost.appendChild(d);
    const t = document.createElement('div');
    t.className = 'txt leg';
    t.style.cssText = `left:${p.txt[c]}px;top:33px`;
    t.textContent = `M10 = ${m}`;
    legHost.appendChild(t);
  });
});

/* box, title and dashed reference lines */
const panelDeco = {
  id: 'panelDeco',
  beforeDatasetsDraw(chart, args, o) {
    const { ctx, chartArea: a } = chart, y = chart.scales.y;
    ctx.save();
    ctx.setLineDash([3, 3]);
    ctx.strokeStyle = '#555';
    ctx.lineWidth = 1;
    o.refs.forEach(v => {
      const py = Math.round(y.getPixelForValue(v)) + 0.5;
      ctx.beginPath(); ctx.moveTo(a.left, py); ctx.lineTo(a.right, py); ctx.stroke();
    });
    ctx.restore();
  },
  afterDatasetsDraw(chart, args, o) {
    const { ctx, chartArea: a } = chart;
    ctx.save();
    ctx.strokeStyle = '#7a7a7a';
    ctx.lineWidth = 1.5;
    ctx.strokeRect(a.left, a.top, a.right - a.left, a.bottom - a.top);
    ctx.fillStyle = '#222';
    ctx.font = `15px ${FONT}`;
    ctx.textAlign = 'center';
    ctx.textBaseline = 'top';
    ctx.fillText(o.title, (a.left + a.right) / 2, a.top + 5);
    ctx.restore();
  }
};

function fmtTick(v, ticks) {
  return ticks.some(t => !Number.isInteger(t)) ? v.toFixed(1) : String(v);
}

BLOCKS.forEach(b => {
  b.titles.forEach((title, i) => {
    const r = Math.floor(i / 4), col = i % 4;
    const showX = r >= 2;
    const w = b.widths[col], h = b.heights[r];
    const cv = document.createElement('canvas');
    const cw = w + AXW + PAD, ch = h + PAD + (showX ? XAXH : PAD);
    cv.width = cw; cv.height = ch;
    cv.style.left = (b.cols[col] - AXW) + 'px';
    cv.style.top = (b.rows[r] - PAD) + 'px';
    cv.style.width = cw + 'px'; cv.style.height = ch + 'px';
    document.body.appendChild(cv);

    const vals = b.data[i], ticks = b.ticks[i];
    const datasets = COLORS.map((colr, c) => ({
      label: 'M10 = ' + M10[c],
      data: vals[c].flatMap((grp, s) => grp.map((v, k) => ({
        x: s + 1 + JITTER[(k * 3 + c * 2 + s) % JITTER.length], y: v }))),
      backgroundColor: colr,
      borderWidth: 0,
      pointRadius: 2.9,
      order: 4 - c
    }));

    new Chart(cv, {
      type: 'scatter',
      data: { datasets },
      options: {
        responsive: false, animation: false, devicePixelRatio: 1,
        layout: { padding: { left: 0, right: PAD, top: PAD, bottom: showX ? 0 : PAD } },
        plugins: { legend: { display: false }, tooltip: { enabled: false },
                   panelDeco: { title, refs: b.refs[i] } },
        scales: {
          x: {
            type: 'linear', min: 0.68, max: 5.35, display: showX,
            afterBuildTicks: s => { s.ticks = STEEPNESS.map((_, k) => ({ value: k + 1 })); },
            afterFit: s => { s.height = XAXH; },
            ticks: { autoSkip: false, maxRotation: 0, padding: 4, color: '#333',
                     font: { size: 7.5, family: FONT },
                     callback: (v, k) => k < SHOWN_X_LABELS ? STEEPNESS[k] : '' },
            grid: { drawOnChartArea: false, tickLength: 5, color: '#555' },
            border: { display: false }
          },
          y: {
            min: b.ranges[i][0], max: b.ranges[i][1],
            afterBuildTicks: s => { s.ticks = ticks.map(v => ({ value: v })); },
            afterFit: s => { s.width = AXW; },
            ticks: { autoSkip: false, padding: 2, color: '#333',
                     font: { size: 7.5, family: FONT },
                     callback: v => fmtTick(v, ticks) },
            grid: { drawOnChartArea: false, tickLength: 4, color: '#555' },
            border: { display: false }
          }
        }
      },
      plugins: [panelDeco]
    });
  });
});
</script>
</body>
</html>
